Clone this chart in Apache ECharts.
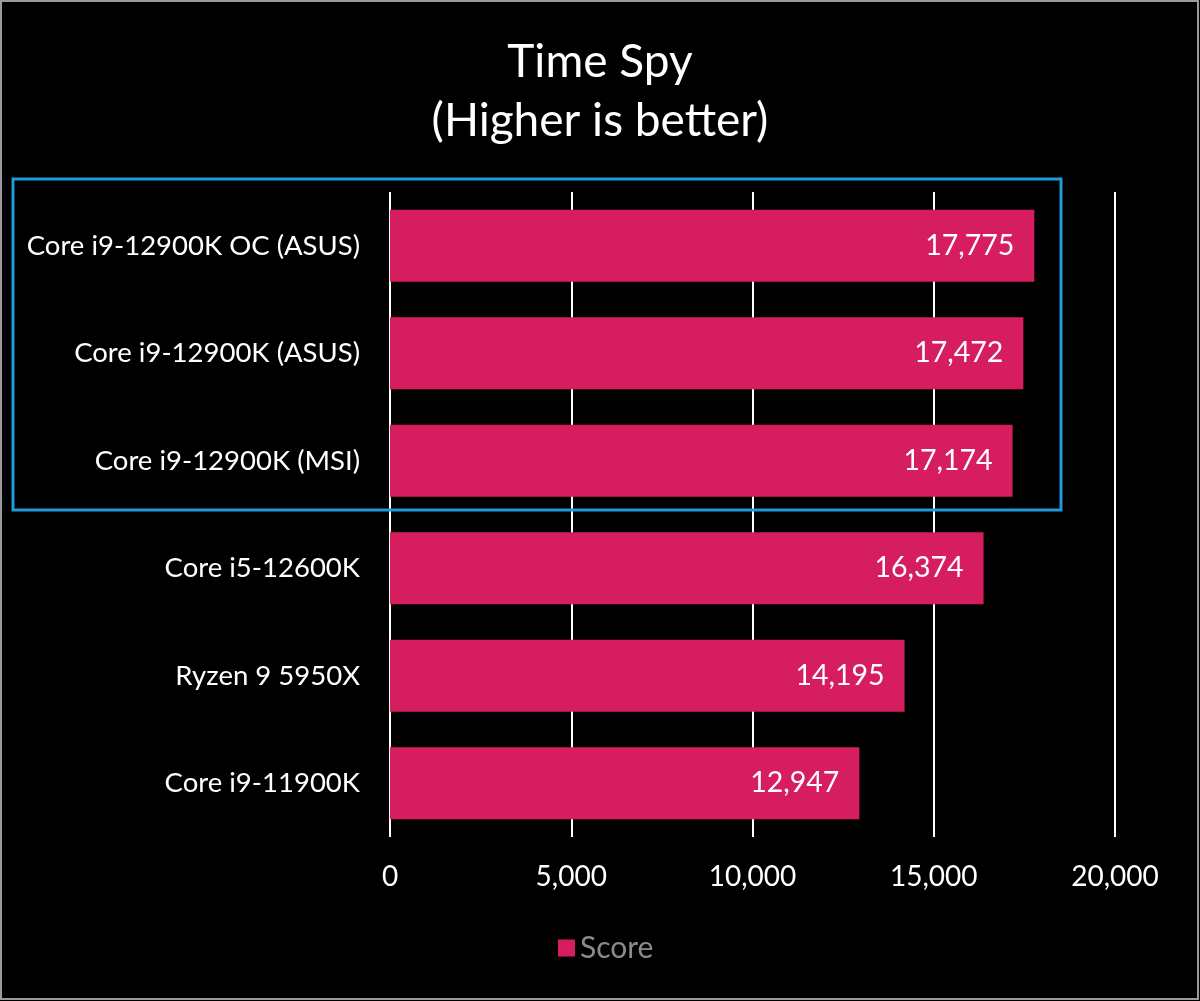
<!DOCTYPE html>
<html>
<head>
<meta charset="utf-8">
<script src="https://cdn.jsdelivr.net/npm/echarts@6/dist/echarts.min.js"></script>
<style>
html,body{margin:0;padding:0;background:#000;}
#c{width:1200px;height:1001px;}
</style>
</head>
<body>
<div id="c"></div>
<script>
const categories = ["Core i9-12900K OC (ASUS)", "Core i9-12900K (ASUS)", "Core i9-12900K (MSI)", "Core i5-12600K", "Ryzen 9 5950X", "Core i9-11900K"];
const scores = [17775, 17472, 17174, 16374, 14195, 12947];
const seriesName = "Score";
const titleLines = ["Time Spy", "(Higher is better)"];

const FONT = "Lato, 'Open Sans', sans-serif";
const chart = echarts.init(document.getElementById('c'));
const fmt = v => v.toLocaleString('en-US');
chart.setOption({
  backgroundColor: '#000',
  animation: false,
  title: {
    text: titleLines.join('\n'),
    left: 'center', top: 28,
    textStyle: { color: '#fff', fontFamily: FONT, fontSize: 46, fontWeight: 'normal', lineHeight: 59 }
  },
  legend: {
    data: [seriesName], bottom: 33, left: 553,
    itemWidth: 17, itemHeight: 17, icon: 'rect', itemGap: 8,
    textStyle: { color: '#8a8a8a', fontFamily: FONT, fontSize: 30 }
  },
  grid: { left: 390, right: 85, top: 192, bottom: 164, containLabel: false },
  xAxis: {
    type: 'value', min: 0, max: 20000, interval: 5000,
    axisLine: { show: false }, axisTick: { show: false },
    splitLine: { show: true, lineStyle: { color: '#ffffff', width: 2 } },
    axisLabel: { color: '#fff', fontFamily: FONT, fontSize: 28, margin: 26, formatter: v => fmt(v) }
  },
  yAxis: {
    type: 'category', data: categories, inverse: true,
    axisLine: { show: false }, axisTick: { show: false },
    axisLabel: { color: '#fff', fontFamily: FONT, fontSize: 27.5, margin: 30 }
  },
  series: [{
    name: seriesName, type: 'bar', data: scores,
    barCategoryGap: '33%',
    itemStyle: { color: '#D61D60' },
    label: { show: true, position: 'insideRight', distance: 20, color: '#fff', fontFamily: FONT, fontSize: 28.5, formatter: p => fmt(p.value) }
  }],
  graphic: [
    { type: 'rect', shape: { x: 13, y: 179, width: 1048, height: 331 }, style: { fill: 'none', stroke: '#1F9AD6', lineWidth: 3 }, z: 10 },
    { type: 'rect', shape: { x: 1, y: 1, width: 1197, height: 998 }, style: { fill: 'none', stroke: '#9a9a9a', lineWidth: 2 }, z: 10 }
  ]
});
</script>
</body>
</html>
